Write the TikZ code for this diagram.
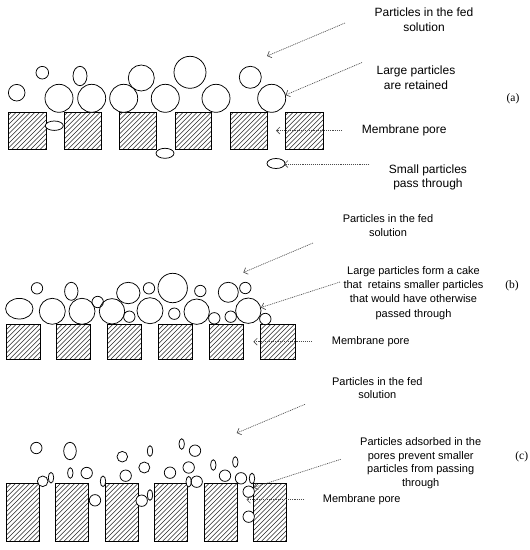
\documentclass[tikz,border=0pt]{standalone}
\usepackage{fontspec}
\setmainfont{Liberation Sans}
\newfontfamily\labserif{Liberation Serif}
\usetikzlibrary{arrows.meta}
\newcommand\hatchbox[4]{%
  \begin{scope}
    \clip (#1,#2) rectangle (#3,#4);
    \foreach \k in {-62,-57.3,...,45} \draw[hatchline] (#1+\k,#4) -- ++(62,-62);
  \end{scope}
  \draw[wallline] (#1,#2) rectangle (#3,#4);}
\begin{document}
\begin{tikzpicture}[x=1pt,y=-1pt,
  wallline/.style={draw=black,line width=0.9pt},
  hatchline/.style={draw=black!85,line width=0.55pt},
  pout/.style={draw=black,line width=0.75pt},
  pfill/.style={fill=white},
  ptr/.style={draw=black!70,line width=0.65pt,dash pattern=on 1pt off 0.9pt,-{Straight Barb[length=3.5pt,width=7pt]}},
  txta/.style={align=center,inner sep=0pt,font=\fontsize{12}{14.5}\selectfont},
  txtb/.style={align=center,inner sep=0pt,font=\fontsize{11}{14.2}\selectfont},
  txtc/.style={align=center,inner sep=0pt,font=\fontsize{11}{13.6}\selectfont},
  tag/.style={inner sep=0pt,font=\labserif\fontsize{11.5}{13}\selectfont}]
\useasboundingbox (0,0) rectangle (530,550);
\fill[white] (0,0) rectangle (530,550);

% ---------- membranes ----------
\foreach \xa/\xb in {8/46,64/101,119/156,175/211,230/267,285/323}
  {\hatchbox{\xa}{112}{\xb}{149.5}}
\foreach \xa/\xb in {6/40.3,56.7/90.7,107.3/141.7,158.3/192.7,209.3/243.7,260.7/295}
  {\hatchbox{\xa}{324.5}{\xb}{359}}
\foreach \xa/\xb in {6/39.3,55.7/88.3,105/138,154.3/187.7,204/237.3,253.3/286.7}
  {\hatchbox{\xa}{483.3}{\xb}{541}}

% ---------- particles ----------
\def\plist{16.7/92.7/8.3/8.3, 42.3/72.7/6.3/6.3, 80/76/7/9.7, 59/98.3/14/14,
  91.7/98.3/14/14, 123.7/98.3/14/14, 141.3/78/13/13, 165.3/98.3/14/14,
  190/72.3/16/16, 216/98.3/14/14, 250.3/77.3/11/11, 271.7/98.3/14/14,
  54.3/125.7/9/4.7, 165/153.3/9/5, 276/163.5/9/5,
  19.3/308.7/13.7/10.3, 37/288.3/5.7/5.7, 52.3/311.3/13/13, 71.3/291.3/6.7/9,
  82/311.3/13/13, 97.7/302/5.7/5.7, 112/311.3/12.7/12.7, 128.3/293/11.7/10.7,
  129.3/316.7/5.7/5.7, 149/288.3/5.7/5.7, 150/310.7/13/13, 172.7/288/14.7/14.7,
  200.3/291/5.7/5.7, 174.3/313.7/5.7/5.7, 196.7/311.7/12.7/12.7, 214.3/318.3/5.7/5.7,
  228.3/292.3/10/10, 245.3/288/5.7/5.7, 230.7/316.7/5.7/5.7, 248.3/310.7/12.7/12.7,
  265.3/319/5.7/5.7,
  36.3/448/5.7/5.7, 70/451/6.3/8.7, 122.3/456.7/5.3/5.3, 70.3/473/2.7/5.3,
  86.7/473/5.7/5.7, 42.7/481.3/5.3/5.3, 51/477.7/2.7/5.3, 103/481.3/2.7/5.3,
  125.7/475.7/5.7/5.7, 144.3/467.5/5.5/5.5, 95/500.3/5.7/5.7, 141.7/500.7/5.7/5.7,
  150/451/2.7/5.3, 181.7/444/2.7/5.3, 195/450.7/5.7/5.7, 170/472.7/5.7/5.7,
  188.7/467.5/5.7/5.7, 213.3/465/2.7/5.3, 235.3/462/2.7/5.3, 225/475.7/5.7/5.7,
  241/478.3/5.7/5.7, 252/478.5/2.7/5.3, 188.7/481.7/2.7/5.3, 196.7/481.7/5.7/5.7,
  248.7/491.7/5.7/5.7, 248.7/516.7/5.7/5.7, 150/495/2.7/5.3}
\foreach \px/\py/\rx/\ry in \plist
  \fill[pfill] (\px,\py) circle[x radius=\rx pt, y radius=\ry pt];
\foreach \px/\py/\rx/\ry in \plist
  \draw[pout] (\px,\py) circle[x radius=\rx pt, y radius=\ry pt];

% ---------- labels ----------
\node[txta] (la1) at (424,19.5) {Particles in the fed\\solution};
\node[txta] (la2) at (416,77.5) {Large particles\\are retained};
\node[txta,anchor=west] (la3) at (361.7,130.5) {Membrane pore};
\node[txta] (la4) at (428,177.5) {Small particles\\pass through};
\node[tag] (taga) at (513,99) {(a)};

\node[txtb] (lb1) at (388,225.5) {Particles in the fed\\solution};
\node[txtb] (lb2) at (413.5,293) {Large particles form a cake\\that\ \ retains smaller particles\\that would have otherwise\\passed through};
\node[txtb,anchor=west] (lb3) at (331.7,341.7) {Membrane pore};
\node[tag] (tagb) at (512,286) {(b)};

\node[txtc] (lc1) at (377.3,388) {Particles in the fed\\solution};
\node[txtc] (lc2) at (420.7,463) {Particles adsorbed in the\\pores prevent smaller\\particles from passing\\through};
\node[txtc,anchor=west] (lc3) at (322.7,500) {Membrane pore};
\node[tag] (tagc) at (521.7,456.7) {(c)};

% ---------- pointers ----------
\coordinate (a1s) at (345,23);    \coordinate (a1e) at (267,56);
\coordinate (a2s) at (362,62.5);  \coordinate (a2e) at (285.5,95);
\coordinate (a3s) at (342,130.5); \coordinate (a3e) at (276,130.5);
\coordinate (a4s) at (369,164);   \coordinate (a4e) at (284,164);
\coordinate (b1s) at (313,243);   \coordinate (b1e) at (243.3,272.5);
\coordinate (b2s) at (340,282);   \coordinate (b2e) at (261,307.5);
\coordinate (b3s) at (311.7,341.7); \coordinate (b3e) at (253.3,341.7);
\coordinate (c1s) at (305,404.3); \coordinate (c1e) at (236.7,433);
\coordinate (c2s) at (340.7,459.3); \coordinate (c2e) at (253.5,487.5);
\coordinate (c3s) at (304,499.7); \coordinate (c3e) at (246.5,499.7);
\foreach \s/\e in {a1s/a1e,a2s/a2e,a3s/a3e,a4s/a4e,b1s/b1e,b2s/b2e,b3s/b3e,c1s/c1e,c2s/c2e,c3s/c3e}
  \draw[ptr] (\s) -- (\e);
\end{tikzpicture}
\end{document}
